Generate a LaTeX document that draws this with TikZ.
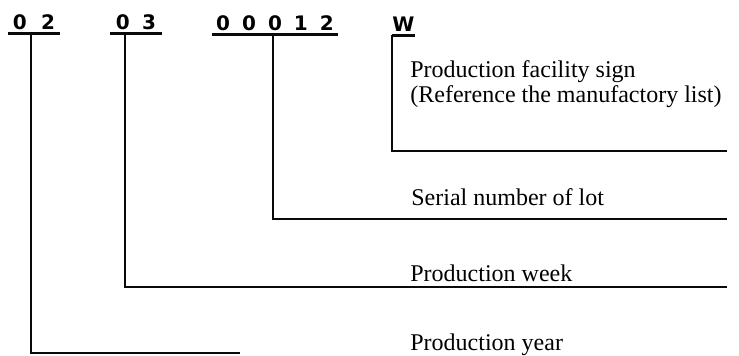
\documentclass[tikz,border=0pt]{standalone}
\usepackage{fontspec}
\setmainfont{Liberation Serif}
\newfontfamily\codefont{DejaVu Sans}
\usepackage{tikz}
\definecolor{TintaNegra}{RGB}{10,10,10}

\begin{document}
\begin{tikzpicture}[x=0.5pt,y=-0.5pt,
  codigo/.style={font=\codefont\bfseries\fontsize{10}{12}\selectfont,
    inner xsep=0pt,inner ysep=2pt,text depth=0pt,anchor=base},
  rotulo/.style={font=\fontsize{12}{10}\selectfont,inner sep=0pt,
    anchor=base west,align=left},
  linea/.style={line width=1.1pt,TintaNegra}]
  \useasboundingbox (0,0) rectangle (739,355);

  \node[codigo,minimum width=26pt] (year) at (34,29) {0\hspace{7.2pt}2};
  \node[codigo,minimum width=26pt] (week) at (136,29) {0\hspace{6.2pt}3};
  \node[codigo,minimum width=63pt] (lot) at (275,30)
       {0\hspace{6pt}0\hspace{6pt}0\hspace{6pt}1\hspace{6pt}2};
  \node[codigo,minimum width=10.5pt] (site) at (403.5,31) {W};
  \foreach \n in {year,week,lot,site}
    \draw[linea] (\n.south west) -- (\n.south east);

  \node[rotulo] (sitelbl) at (410,102)
       {Production facility sign\\(Reference the manufactory list)};
  \node[rotulo] (lotlbl) at (411,205) {Serial number of lot};
  \node[rotulo] (weeklbl) at (410,281) {Production week};
  \node[rotulo] (yearlbl) at (410,350) {Production year};

  \coordinate (siteend) at (727,151);
  \coordinate (lotend) at (727,219);
  \coordinate (weekend) at (727,287);
  \coordinate (yearend) at (240,353);

  \draw[linea] (site.south west) |- (siteend);
  \draw[linea] (lot.south west) ++(61,0) |- (lotend);
  \draw[linea] (week.south west) ++(15,0) |- (weekend);
  \draw[linea] (year.south west) ++(23,0) |- (yearend);
\end{tikzpicture}
\end{document}
